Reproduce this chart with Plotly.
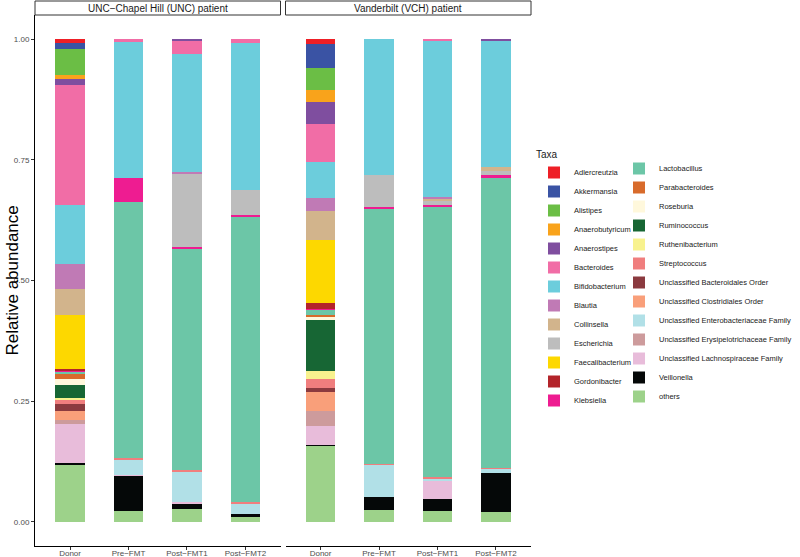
import plotly.graph_objects as go

# ---------------- data ----------------
samples = ["Donor", "Pre\u2212FMT", "Post\u2212FMT1", "Post\u2212FMT2"]
panels = ["UNC\u2212Chapel Hill (UNC) patient", "Vanderbilt (VCH) patient"]

taxa = [
    "Adlercreutzia", "Akkermansia", "Alistipes", "Anaerobutyricum", "Anaerostipes",
    "Bacteroides", "Bifidobacterium", "Blautia", "Collinsella", "Escherichia",
    "Faecalibacterium", "Gordonibacter", "Klebsiella", "Lactobacillus", "Parabacteroides",
    "Roseburia", "Ruminococcus", "Ruthenibacterium", "Streptococcus",
    "Unclassified Bacteroidales Order", "Unclassified Clostridiales Order",
    "Unclassified Enterobacteriaceae Family", "Unclassified Erysipelotrichaceae Family",
    "Unclassified Lachnospiraceae Family", "Veillonella", "others",
]

colors = [
    "#EE1F26", "#3A53A4", "#6BBE45", "#F9A31B", "#7F4E9F",
    "#F16DA6", "#6CCDDC", "#C07AB5", "#D2B48C", "#BDBDBD",
    "#FDD800", "#B3242A", "#EE1C91", "#6CC6A7", "#D86B2B",
    "#FFF8DC", "#176634", "#F8F28E", "#F07E7E",
    "#8B3A3F", "#F99F7A",
    "#B1E0E7", "#CD9B9C",
    "#E8BCDA", "#050808", "#9DD28A",
]

# relative abundance per sample, in taxa order
unc_donor = [0.008, 0.013, 0.054, 0.008, 0.013, 0.247, 0.122, 0.052, 0.054, 0.000,
             0.112, 0.004, 0.002, 0.004, 0.012, 0.012, 0.026, 0.004, 0.008,
             0.016, 0.019, 0.000, 0.008, 0.081, 0.002, 0.119]
unc_pre = [0, 0, 0, 0, 0, 0.006, 0.281, 0, 0, 0,
           0, 0, 0.051, 0.530, 0, 0, 0, 0, 0.003,
           0, 0, 0.031, 0, 0.002, 0.074, 0.022]
unc_post1 = [0, 0, 0, 0, 0.002, 0.029, 0.245, 0.002, 0, 0.153,
             0, 0, 0.003, 0.458, 0, 0, 0, 0, 0.003,
             0, 0, 0.063, 0, 0.003, 0.013, 0.026]
unc_post2 = [0, 0, 0, 0, 0, 0.007, 0.305, 0, 0, 0.052,
             0, 0, 0.003, 0.592, 0, 0, 0, 0, 0.002,
             0, 0, 0.023, 0, 0, 0.005, 0.011]

vch_donor = [0.011, 0.048, 0.047, 0.024, 0.046, 0.079, 0.075, 0.026, 0.061, 0.000,
             0.130, 0.011, 0.003, 0.010, 0.003, 0.007, 0.107, 0.017, 0.017,
             0.009, 0.039, 0.000, 0.031, 0.039, 0.002, 0.158]
vch_pre = [0, 0, 0, 0, 0, 0, 0.282, 0, 0, 0.066,
           0, 0, 0.002, 0.530, 0, 0, 0, 0, 0.002,
           0, 0, 0.067, 0, 0, 0.027, 0.024]
vch_post1 = [0, 0, 0, 0, 0, 0.003, 0.325, 0.003, 0.005, 0.008,
             0, 0, 0.002, 0.562, 0, 0, 0, 0, 0.003,
             0, 0, 0.004, 0, 0.037, 0.025, 0.023]
vch_post2 = [0, 0, 0, 0, 0.003, 0, 0.261, 0, 0.009, 0.009,
             0, 0, 0.005, 0.601, 0, 0, 0, 0, 0.002,
             0, 0, 0.009, 0, 0, 0.080, 0.021]

y_ticks = [0, 0.25, 0.5, 0.75, 1.0]
y_ticklabels = ["0.00", "0.25", "0.50", "0.75", "1.00"]

# ---------------- figure ----------------
FONT = "Liberation Sans, Arial, sans-serif"
fig = go.Figure()

panel_data = [
    ("x", "y", [unc_donor, unc_pre, unc_post1, unc_post2]),
    ("x2", "y2", [vch_donor, vch_pre, vch_post1, vch_post2]),
]

n_first_col = 13
for p, (xa, ya, cols) in enumerate(panel_data):
    for i in reversed(range(len(taxa))):
        fig.add_trace(go.Bar(
            x=samples,
            y=[c[i] for c in cols],
            name=taxa[i],
            legendgroup=taxa[i],
            showlegend=(p == 0),
            legend="legend" if i < n_first_col else "legend2",
            marker=dict(color=colors[i], line=dict(width=0)),
            width=0.5,
            xaxis=xa, yaxis=ya,
        ))

W, H = 800, 557
ml, mr, mt, mb = 35, 269, 15, 11
pw = W - ml - mr
ph = H - mt - mb
gap = 5
half = (pw - gap) / 2
d1 = [0, half / pw]
d2 = [(half + gap) / pw, 1]

xcommon = dict(
    type="category", categoryorder="array", categoryarray=samples,
    range=[-0.6, 3.6], showline=True, linecolor="#000000", linewidth=1,
    ticks="outside", ticklen=3, tickcolor="#333333", tickwidth=1,
    ticklabelstandoff=-4,
    tickfont=dict(size=8, color="#4D4D4D", family=FONT),
    showgrid=False, zeroline=False, fixedrange=True,
)

fig.update_layout(
    width=W, height=H,
    margin=dict(l=ml, r=mr, t=mt, b=mb, autoexpand=False),
    paper_bgcolor="white", plot_bgcolor="white",
    barmode="stack",
    font=dict(family=FONT, color="#1A1A1A"),
    xaxis=dict(domain=d1, anchor="y", **xcommon),
    xaxis2=dict(domain=d2, anchor="y2", **xcommon),
    yaxis=dict(
        domain=[0, 1], range=[-0.05, 1.05], tickvals=y_ticks, ticktext=y_ticklabels,
        showline=True, linecolor="#000000", linewidth=1,
        ticks="outside", ticklen=3, tickcolor="#333333",
        tickfont=dict(size=8, color="#4D4D4D", family=FONT),
        showgrid=False, zeroline=False,
        automargin=False,
    ),
    yaxis2=dict(
        domain=[0, 1], anchor="x2", matches="y", range=[-0.05, 1.05],
        showticklabels=False, showline=False, ticks="", showgrid=False, zeroline=False,
    ),
    legend=dict(
        x=(534 - ml) / pw, y=1 - (145 - mt) / ph, xanchor="left", yanchor="top",
        traceorder="reversed", bgcolor="rgba(0,0,0,0)",
        font=dict(size=7.5, color="#1A1A1A", family=FONT),
        title=dict(text="Taxa", font=dict(size=10, color="#1A1A1A", family=FONT)),
        tracegroupgap=0,
    ),
    legend2=dict(
        x=(619 - ml) / pw, y=1 - (154 - mt) / ph, xanchor="left", yanchor="top",
        traceorder="reversed", bgcolor="rgba(0,0,0,0)",
        font=dict(size=7.5, color="#1A1A1A", family=FONT),
        tracegroupgap=0,
    ),
)

# y-axis title
fig.add_annotation(
    xref="paper", yref="paper", x=(12 - ml) / pw, y=0.5,
    text="Relative abundance", textangle=-90, showarrow=False,
    xanchor="center", yanchor="middle",
    font=dict(size=17, color="#000000", family=FONT),
)

# facet strips
strip_h = 14 / ph
for k, xa in enumerate(["x", "x2"]):
    fig.add_shape(
        type="rect", xref=f"{xa} domain", yref="y domain",
        x0=0, x1=1, y0=1, y1=1 + strip_h,
        line=dict(color="#333333", width=1), fillcolor="white", layer="above",
    )
    fig.add_annotation(
        xref=f"{xa} domain", yref="y domain", x=0.5, y=1 + 7 / ph,
        text=panels[k], showarrow=False, xanchor="center", yanchor="middle",
        font=dict(size=10, color="#1A1A1A", family=FONT),
    )

# remove the default 8px page margin so the 800x557 figure fills the window
fig.write_html(
    "out.html",
    config={"displayModeBar": False},
    post_script="document.body.style.margin='0';",
)
